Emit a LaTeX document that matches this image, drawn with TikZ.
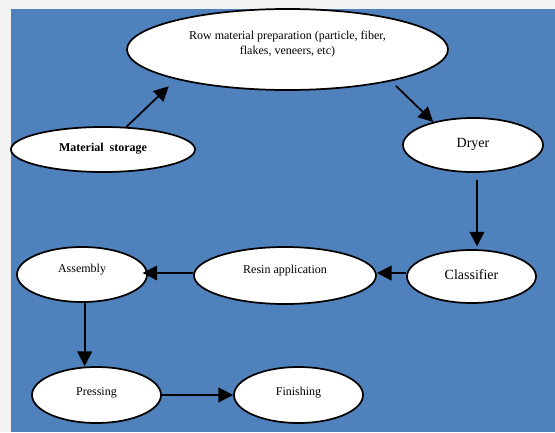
\documentclass[tikz,border=0pt]{standalone}
\usepackage{fontspec}
\setmainfont{Liberation Serif}
\usetikzlibrary{shapes,arrows.meta}
\definecolor{bgblue}{RGB}{79,129,189}
\definecolor{pagegray}{RGB}{242,242,242}
\begin{document}
\begin{tikzpicture}[x=0.75pt,y=-0.75pt]
  \tikzstyle{stage}=[ellipse, draw=black, fill=white, line width=1.3pt, inner sep=0pt, font=\fontsize{9}{11.25}\selectfont, text height=5.4pt, text depth=0pt]
  \tikzstyle{big}  =[font=\fontsize{10.5}{12.6}\selectfont, text height=6.3pt]
  \tikzstyle{flow} =[line width=1.3pt, -{Triangle[length=11pt,width=11pt]}]
  \useasboundingbox (0,0) rectangle (555,432);
  \fill[pagegray] (0,0) rectangle (555,432);
  \fill[bgblue] (11,9) rectangle (555,432);
  \node[stage, minimum width=240.75pt, minimum height=60.75pt, align=center, text height=17.4pt, text depth=10pt](s0) at (287.5,49.5) {Row material preparation (particle, fiber,\\flakes, veneers, etc)};
  \node[stage, minimum width=138pt, minimum height=33.75pt, text depth=2.2pt](s1) at (103,149.5) {\textbf{Material\ \ storage}};
  \node[stage, big, minimum width=105pt, minimum height=40.5pt, text depth=3pt](s2) at (473,145) {Dryer};
  \node[stage, big, minimum width=96.75pt, minimum height=39.75pt, text depth=2.2pt](s3) at (471.5,276.5) {Classifier};
  \node[stage, minimum width=136.5pt, minimum height=42.75pt, text depth=8.2pt](s4) at (285,275.5) {Resin application};
  \node[stage, minimum width=97.5pt, minimum height=41.25pt, text depth=8.2pt](s5) at (82,274.5) {Assembly};
  \node[stage, minimum width=96.75pt, minimum height=42pt, text depth=4.5pt](s6) at (96.5,395) {Pressing};
  \node[stage, minimum width=96.75pt, minimum height=42pt, text depth=4.5pt](s7) at (298.5,395) {Finishing};
  \draw[flow, shorten >=7.5pt] (s1.44) -- (s0.195);
  \draw[flow, shorten <=5pt] (s0.343) -- (s2.150);
  \draw[flow, shorten <=5pt, shorten >=2pt] ([xshift=3pt]s2.south) -- ([xshift=3pt]s2.south |- s3.north);
  \draw[flow] ([yshift=2.6pt]s3.west) -- ([yshift=2.6pt]s3.west -| s4.east);
  \draw[flow, shorten >=-4pt] ([yshift=1.9pt]s4.west) -- ([yshift=1.9pt]s4.west -| s5.east);
  \draw[flow] ([xshift=2pt]s5.south) -- ([xshift=2pt]s5.south |- s6.north);
  \draw[flow] (s6.east) -- (s7.west);
\end{tikzpicture}
\end{document}
